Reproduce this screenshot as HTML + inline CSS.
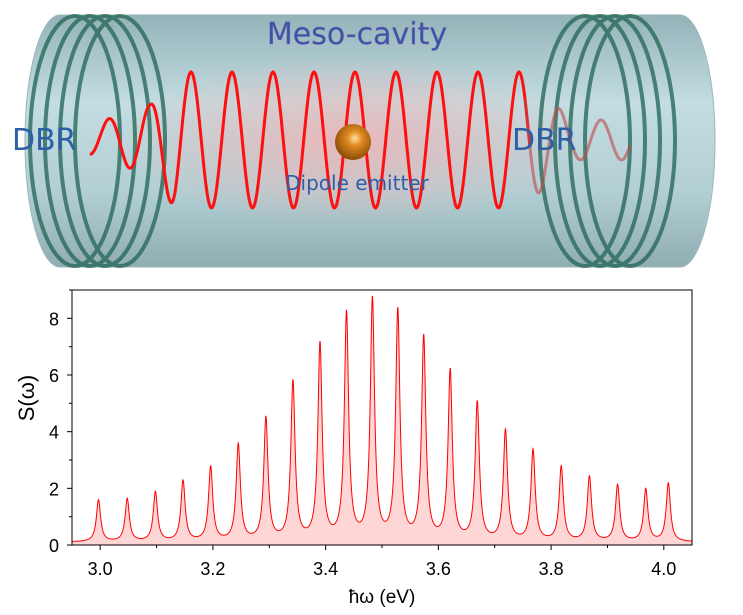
<!DOCTYPE html>
<html><head><meta charset="utf-8">
<style>
html,body{margin:0;padding:0;background:#fff;}
body{width:743px;height:615px;overflow:hidden;position:relative;font-family:"Liberation Sans",sans-serif;}
svg{position:absolute;left:0;top:0;}
</style></head>
<body>
<svg width="743" height="615">
<defs>
  <linearGradient id="cyl" x1="0" y1="0" x2="0" y2="1">
    <stop offset="0" stop-color="#93b3b8"/>
    <stop offset="0.35" stop-color="#c3dde2"/>
    <stop offset="0.7" stop-color="#b2cfd4"/>
    <stop offset="1" stop-color="#8fadb2"/>
  </linearGradient>
  <radialGradient id="glow" cx="0.5" cy="0.5" r="0.5">
    <stop offset="0" stop-color="#f4b0b0" stop-opacity="0.8"/>
    <stop offset="1" stop-color="#f4b0b0" stop-opacity="0"/>
  </radialGradient>
  <radialGradient id="ball" cx="0.55" cy="0.4" r="0.6">
    <stop offset="0" stop-color="#ffe0a0"/>
    <stop offset="0.35" stop-color="#e08a20"/>
    <stop offset="1" stop-color="#8a4a08"/>
  </radialGradient>
</defs>
<g>
  <path d="M60,15 L680,15 A35,126 0 0 1 680,267 L60,267 A35,126 0 0 1 60,15 Z" fill="url(#cyl)" stroke="#9bb6ba"/>
  <ellipse cx="350" cy="140" rx="230" ry="85" fill="url(#glow)"/>
  <g fill="none" stroke="#2a6a5a" stroke-width="4" opacity="0.8">
    <ellipse cx="75" cy="141" rx="45" ry="125"/>
    <ellipse cx="90" cy="141" rx="45" ry="125"/>
    <ellipse cx="105" cy="141" rx="45" ry="125"/>
    <ellipse cx="120" cy="141" rx="45" ry="125"/>
  </g>
  <g fill="none" stroke="#2a6a5a" stroke-width="4" opacity="0.8">
    <ellipse cx="585" cy="141" rx="45" ry="125"/>
    <ellipse cx="600" cy="141" rx="45" ry="125"/>
    <ellipse cx="615" cy="141" rx="45" ry="125"/>
    <ellipse cx="630" cy="141" rx="45" ry="125"/>
  </g>
  <path id="wave" fill="none" stroke="#ff1010" stroke-width="3"/>
  <path id="wave2" fill="none" stroke="#c04848" stroke-width="3" opacity="0.6"/>
  <circle cx="353" cy="142" r="18" fill="url(#ball)"/>
  <text x="357" y="44" text-anchor="middle" font-size="30" fill="#2d5aa0" style="font-family:'DejaVu Sans',sans-serif" stroke="#9060c0" stroke-width="0.5">Meso-cavity</text>
  <text x="12" y="150" font-size="30" fill="#2d5fa6" style="font-family:'DejaVu Sans',sans-serif">DBR</text>
  <text x="512" y="150" font-size="30" fill="#2d5fa6" style="font-family:'DejaVu Sans',sans-serif">DBR</text>
  <text x="357" y="190" text-anchor="middle" font-size="20" fill="#2d5fa6" style="font-family:'DejaVu Sans',sans-serif">Dipole emitter</text>
</g>
<g id="chart"></g>
</svg>
<script>
(function(){
  function amp(x){
    if(x<150) return 15+(x-90)/60*20;
    if(x<175) return 35+(x-150)/25*33;
    if(x<525) return 68;
    if(x<570) return 68-(x-525)/45*48;
    return 20;
  }
  function y(x){return 140-amp(x)*Math.cos(2*Math.PI*(x-191)/41);}
  var d1='',d2='';
  for(var x=90;x<=530;x++){d1+=(x===90?'M':'L')+x+','+y(x).toFixed(1);}
  for(var x=525;x<=630;x++){d2+=(x===525?'M':'L')+x+','+y(x).toFixed(1);}
  document.getElementById('wave').setAttribute('d',d1);
  document.getElementById('wave2').setAttribute('d',d2);
})();

// Chart data (observed peak tops)
var peakCenters=[2.997,3.048,3.098,3.147,3.196,3.245,3.294,3.342,3.390,3.437,3.483,3.528,3.574,3.621,3.669,3.719,3.768,3.818,3.868,3.918,3.968,4.008];
var peakHeights=[1.6,1.65,1.9,2.3,2.8,3.6,4.55,5.85,7.2,8.3,8.8,8.4,7.45,6.25,5.1,4.1,3.4,2.8,2.45,2.15,2.0,2.2];
var peakWidth=0.0045;
var baseline=0.1;
var xTicks=[3.0,3.2,3.4,3.6,3.8,4.0];
var xTickLabels=["3.0","3.2","3.4","3.6","3.8","4.0"];
var yTicks=[0,2,4,6,8];
var yTickLabels=["0","2","4","6","8"];

var L=72,R=692,T=290,B=545,XMIN=2.95,XMAX=4.05,YMIN=0,YMAX=9;
function sx(v){return L+(v-XMIN)/(XMAX-XMIN)*(R-L);}
function sy(v){return B-(v-YMIN)/(YMAX-YMIN)*(B-T);}
var NS='http://www.w3.org/2000/svg';
var g=document.getElementById('chart');
function mk(t,a,p){var e=document.createElementNS(NS,t);for(var k in a)e.setAttribute(k,a[k]);(p||g).appendChild(e);return e;}

// solve amplitudes so the curve's peak tops equal observed heights
var amps=peakHeights.slice();
function S(x){
  var s=baseline,w2=peakWidth*peakWidth;
  for(var i=0;i<peakCenters.length;i++){var d=x-peakCenters[i];s+=amps[i]*w2/(w2+d*d);}
  return s;
}
for(var it=0;it<30;it++){
  var vals=peakCenters.map(function(c){return S(c);});
  for(var i=0;i<amps.length;i++){amps[i]+= (peakHeights[i]-vals[i]);}
}
var pts=[];
for(var px=L;px<=R;px+=0.25){var xv=XMIN+(px-L)/(R-L)*(XMAX-XMIN);pts.push([px,Math.max(T,sy(S(xv)))]);}
var dl='M'+pts.map(function(p){return p[0].toFixed(2)+','+p[1].toFixed(2);}).join('L');
var area=mk('path',{d:dl+'L'+R+','+B+'L'+L+','+B+'Z',fill:'#ffd6d6',stroke:'none'});


var line=mk('path',{d:dl,fill:'none',stroke:'#ff0000','stroke-width':1});



var frame=mk('rect',{x:L,y:T,width:R-L,height:B-T,fill:'none',stroke:'#000','stroke-width':1});



for(var v=3.0;v<=4.0001;v+=0.1){
  var major=Math.abs(Math.round(v*5)-v*5)<1e-6;
  var t=mk('line',{x1:sx(v),x2:sx(v),y1:B,y2:B+(major?5:3),stroke:'#000'});
  
  
}
xTicks.forEach(function(v,i){
  var t=mk('text',{x:sx(v),y:B+30,'text-anchor':'middle','font-size':18,fill:'#000'});
  t.textContent=xTickLabels[i];
  
  
});
for(var v=0;v<=9.0001;v+=1){
  var t=mk('line',{x1:L,x2:L-(v%2===0?5:3),y1:sy(v),y2:sy(v),stroke:'#000'});
  
  
}
yTicks.forEach(function(v,i){
  var t=mk('text',{x:L-13,y:sy(v)+7,'text-anchor':'end','font-size':18,fill:'#000'});
  t.textContent=yTickLabels[i];
  
  
});
var xt=mk('text',{x:382,y:603,'text-anchor':'middle','font-size':19,fill:'#000'});
xt.textContent='ħω (eV)';


var yt=mk('text',{x:0,y:0,'text-anchor':'middle','font-size':22,fill:'#000',transform:'translate(34,398) rotate(-90)'});
yt.textContent='S(ω)';


</script>
</body></html>
